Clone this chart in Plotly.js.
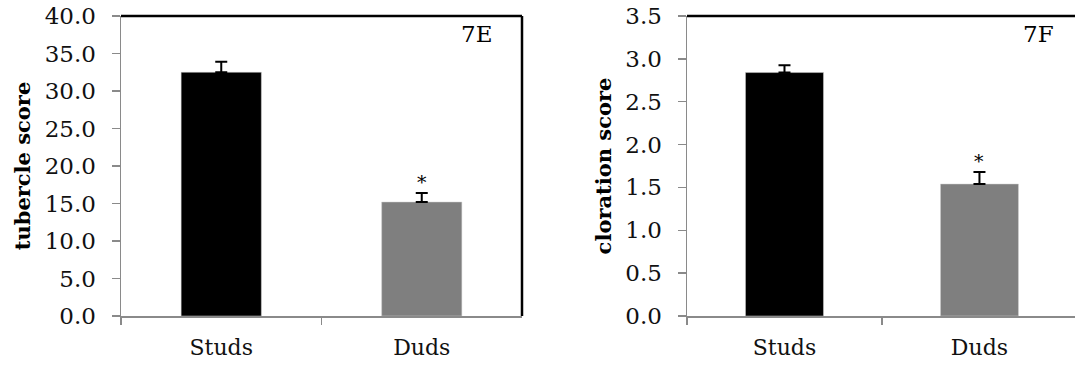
<!DOCTYPE html>
<html>
<head>
<meta charset="utf-8">
<script src="https://cdn.plot.ly/plotly-3.0.1.min.js"></script>
<style>html,body{margin:0;padding:0;background:#fff;}#chart{width:1075px;height:365px;}</style>
</head>
<body>
<div id="chart"></div>
<script>
// Data
const categories = ["Studs", "Duds"];
const tubercleScore = [32.5, 15.2];
const tubercleErr = [1.4, 1.2];
const clorationScore = [2.84, 1.54];
const clorationErr = [0.085, 0.14];
const significant = [false, true];
const panelLabels = ["7E", "7F"];
const tubercleTicks = [0, 5, 10, 15, 20, 25, 30, 35, 40];
const clorationTicks = [0, 0.5, 1, 1.5, 2, 2.5, 3, 3.5];
const barColors = ["#000000", "#7f7f7f"];

const FONT = "'DejaVu Serif', 'Liberation Serif', serif";
const AXIS_GRAY = "#8a8a8a";
const H = 365, W = 1075;
const yDom = [(H - 316) / H, (H - 16) / H];

function barTrace(vals, errs, xa, ya) {
  return {
    type: "bar", x: categories, y: vals, xaxis: xa, yaxis: ya,
    marker: {color: barColors, line: {color: "#d0d0d0", width: 0.5}},
    error_y: {type: "data", array: errs, symmetric: false, arrayminus: errs.map(() => 0),
              color: "#000", thickness: 2, width: 6},
    hoverinfo: "none", showlegend: false
  };
}

const traces = [
  barTrace(tubercleScore, tubercleErr, "x", "y"),
  barTrace(clorationScore, clorationErr, "x2", "y2")
];

function yaxis(ticks, title, anchor, range) {
  return {
    domain: yDom, anchor: anchor, range: range,
    tickvals: ticks, ticktext: ticks.map(v => v.toFixed(1)),
    ticks: "outside", ticklen: 8, tickwidth: 1.5, tickcolor: AXIS_GRAY,
    showline: true, linecolor: AXIS_GRAY, linewidth: 1.5,
    showgrid: false, zeroline: false,
    tickfont: {family: FONT, size: 23, color: "#111"},
    ticklabelstandoff: 11,
    title: {text: title, font: {family: FONT, size: 21, color: "#000", weight: "bold"}, standoff: 8},
    fixedrange: true
  };
}
function xaxis(dom, anchor, range) {
  return {
    domain: dom, anchor: anchor, type: "category", range: range,
    ticks: "outside", tickson: "boundaries", ticklen: 7, tickwidth: 1.5, tickcolor: AXIS_GRAY,
    showline: true, linecolor: AXIS_GRAY, linewidth: 1.5, showgrid: false, zeroline: false,
    tickfont: {family: FONT, size: 22, color: "#111"},
    ticklabelstandoff: 11,
    fixedrange: true
  };
}

const labelPos = [[0.93, 0.99], [0.95, 0.99]];
const annotations = [];
const sets = [[tubercleScore, tubercleErr, "x", "y"], [clorationScore, clorationErr, "x2", "y2"]];
sets.forEach(([vals, errs, xa, ya], p) => {
  categories.forEach((c, i) => {
    if (significant[i]) {
      annotations.push({x: c, y: vals[i] + errs[i], xref: xa, yref: ya, text: "*",
        showarrow: false, yanchor: "bottom", yshift: -2,
        font: {family: FONT, size: 19, color: "#000"}});
    }
  });
  annotations.push({x: labelPos[p][0], y: labelPos[p][1], xref: xa + " domain", yref: ya + " domain", text: panelLabels[p],
    showarrow: false, xanchor: "right", yanchor: "top",
    font: {family: FONT, size: 23, color: "#000"}});
});

const shapes = [
  {type: "line", xref: "x domain", yref: "y domain", x0: 0, x1: 1, y0: 1, y1: 1, line: {color: "#000", width: 2.5}},
  {type: "line", xref: "x domain", yref: "y domain", x0: 1, x1: 1, y0: 0, y1: 1, line: {color: "#000", width: 2.5}},
  {type: "line", xref: "x2 domain", yref: "y2 domain", x0: 0, x1: 1, y0: 1, y1: 1, line: {color: "#000", width: 2.5}}
];

const layout = {
  width: W, height: H,
  margin: {l: 0, r: 0, t: 0, b: 0},
  paper_bgcolor: "#fff", plot_bgcolor: "#fff",
  bargap: 0.6,
  xaxis: xaxis([121 / W, 522 / W], "y", [-0.5, 1.5]),
  yaxis: yaxis(tubercleTicks, "tubercle score", "x", [0, 40]),
  xaxis2: xaxis([687 / W, 1], "y2", [-0.5, 1.49]),
  yaxis2: yaxis(clorationTicks, "cloration score", "x2", [0, 3.5]),
  annotations: annotations,
  shapes: shapes,
  showlegend: false
};

Plotly.newPlot("chart", traces, layout, {staticPlot: true, displayModeBar: false});
</script>
</body>
</html>
